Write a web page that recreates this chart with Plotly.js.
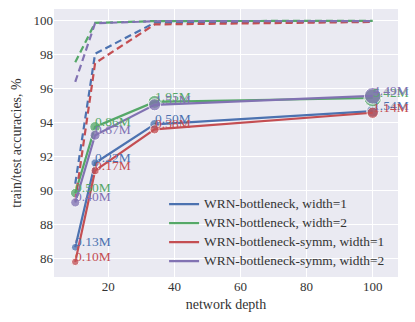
<!DOCTYPE html>
<html>
<head>
<meta charset="utf-8">
<script src="https://cdn.plot.ly/plotly-3.0.1.min.js"></script>
<style>
  html, body { margin: 0; padding: 0; background: #fff; }
  #chart { width: 415px; height: 322px; }
</style>
</head>
<body>
<div id="chart"></div>
<script>
var depth = [10, 16, 34, 100];

var names = [
  'WRN-bottleneck, width=1',
  'WRN-bottleneck, width=2',
  'WRN-bottleneck-symm, width=1',
  'WRN-bottleneck-symm, width=2'
];

var colours = ['#4C72B0', '#55A868', '#C44E52', '#8172B2'];

// test accuracies (solid)
var testB1 = [86.66, 91.62, 93.9, 94.68];
var testB2 = [89.85, 93.75, 95.22, 95.45];
var testS1 = [85.8, 91.17, 93.6, 94.58];
var testS2 = [89.3, 93.26, 95.05, 95.58];

// train accuracies (dashed)
var trainB1 = [90.4, 98.05, 99.88, 99.96];
var trainB2 = [97.55, 99.87, 99.98, 99.99];
var trainS1 = [89.4, 97.5, 99.78, 99.93];
var trainS2 = [96.4, 99.85, 99.97, 99.98];

// parameter counts, millions
var paramsB1 = [0.13, 0.22, 0.50, 1.54];
var paramsB2 = [0.50, 0.86, 1.95, 5.42];
var paramsS1 = [0.10, 0.17, 0.38, 1.14];
var paramsS2 = [0.40, 0.67, 1.51, 4.49];

var tests = [testB1, testB2, testS1, testS2];
var trains = [trainB1, trainB2, trainS1, trainS2];
var params = [paramsB1, paramsB2, paramsS1, paramsS2];

var font = 'Liberation Serif, Times New Roman, serif';

var data = [];
var annotations = [];

for (var i = 0; i < 4; i++) {
  data.push({
    x: depth, y: trains[i],
    mode: 'lines', type: 'scatter',
    line: {color: colours[i], width: 2.2, dash: '7px,4px'},
    showlegend: false, hoverinfo: 'skip'
  });
  // bigger text inside a smaller legend font keeps the rows tight
  data.push({
    x: depth, y: tests[i],
    mode: 'lines', type: 'scatter',
    name: '<span style="font-size:13.4px">' + names[i] + '</span>',
    line: {color: colours[i], width: 2.2}
  });
  data.push({
    x: depth, y: tests[i],
    mode: 'markers', type: 'scatter',
    marker: {
      color: colours[i], opacity: 0.75,
      size: params[i].map(function (p) { return 6 + 5 * Math.sqrt(p); })
    },
    showlegend: false, hoverinfo: 'skip'
  });
  for (var j = 0; j < depth.length; j++) {
    annotations.push({
      x: depth[j], y: tests[i][j],
      xref: 'x', yref: 'y',
      text: params[i][j].toFixed(2) + 'M',
      showarrow: false,
      xanchor: 'left', yanchor: 'bottom',
      xshift: -2, yshift: -4,
      font: {family: font, size: 13.5, color: colours[i]}
    });
  }
}

var layout = {
  width: 415, height: 322,
  margin: {l: 54, r: 17, t: 9, b: 45},
  paper_bgcolor: '#ffffff',
  plot_bgcolor: '#EAEAF2',
  font: {family: font, size: 13, color: '#333333'},
  xaxis: {
    range: [3.57, 107.65],
    tickvals: [20, 40, 60, 80, 100],
    gridcolor: '#ffffff', gridwidth: 1.2,
    zeroline: false, showline: false, ticks: '',
    title: {text: 'network depth', font: {size: 14}, standoff: 6}
  },
  yaxis: {
    range: [84.91, 100.69],
    tickvals: [86, 88, 90, 92, 94, 96, 98, 100],
    gridcolor: '#ffffff', gridwidth: 1.2,
    zeroline: false, showline: false, ticks: '',
    title: {text: 'train/test accuracies, %', font: {size: 14}, standoff: 8}
  },
  legend: {
    x: 0.32, y: 0.005, xanchor: 'left', yanchor: 'bottom',
    bgcolor: 'rgba(0,0,0,0)',
    font: {family: font, size: 11, color: '#333333'},
    tracegroupgap: 0
  },
  annotations: annotations
};

Plotly.newPlot('chart', data, layout, {displayModeBar: false});
</script>
</body>
</html>
